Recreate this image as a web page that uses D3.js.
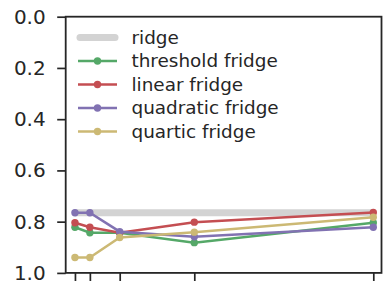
<!DOCTYPE html>
<html>
<head>
<meta charset="utf-8">
<script src="https://cdn.jsdelivr.net/npm/d3@7"></script>
<style>
  body { margin: 0; background: #fff; }
  svg { display: block; font-family: "DejaVu Sans", sans-serif; }
</style>
</head>
<body>
<script>
// data
const xValues = [0, 0.05, 0.15, 0.4, 1.0]
const ridge = [0.765, 0.765, 0.765, 0.765, 0.765]
const threshold = [0.822, 0.843, 0.843, 0.882, 0.804]
const linear = [0.804, 0.822, 0.843, 0.802, 0.764]
const quadratic = [0.765, 0.765, 0.839, 0.859, 0.822]
const quartic = [0.94, 0.94, 0.862, 0.841, 0.783]
const yTicks = [0, 0.2, 0.4, 0.6, 0.8, 1.0]
const seriesNames = ['threshold fridge', 'linear fridge', 'quadratic fridge', 'quartic fridge']
const seriesColors = ['#55a868', '#c44e52', '#8172b2', '#ccb974']
const seriesValues = [threshold, linear, quadratic, quartic]

const W = 386, H = 281
const ink = '#262626'

const x = d3.scaleLinear().domain([-0.031, 1.0275]).range([65.7, 381.5])
const y = d3.scaleLinear().domain([0, 1]).range([16.7, 272.9])

const svg = d3.select('body').append('svg')
  .attr('width', W).attr('height', H)

// LINES
const line = d3.line()
  .x((d, i) => x(xValues[i]))
  .y(d => y(d))

svg.append('path')
  .datum(ridge)
  .attr('d', line)
  .attr('fill', 'none')
  .attr('stroke', '#d3d3d3')
  .attr('stroke-width', 7)

seriesValues.forEach((vals, k) => {
  svg.append('path')
    .datum(vals)
    .attr('d', line)
    .attr('fill', 'none')
    .attr('stroke', seriesColors[k])
    .attr('stroke-width', 2.5)
  svg.selectAll(null)
    .data(vals)
    .enter()
    .append('circle')
    .attr('cx', (d, i) => x(xValues[i]))
    .attr('cy', d => y(d))
    .attr('r', 3.7)
    .attr('fill', seriesColors[k])
})

// AXES
const yAxis = svg.append('g')
  .attr('transform', `translate(${x.range()[0]},0)`)
  .call(d3.axisLeft(y).tickValues(yTicks).tickFormat(d3.format('.1f')).tickSize(8.5).tickPadding(11.5))
const xAxis = svg.append('g')
  .attr('transform', `translate(0,${y.range()[1]})`)
  .call(d3.axisBottom(x).tickValues(xValues).tickFormat('').tickSize(9))

;[yAxis, xAxis].forEach(g => {
  g.select('.domain').remove()
  g.selectAll('line').attr('stroke', ink).attr('stroke-width', 1.7)
  g.selectAll('text').attr('fill', ink).style('font-size', '20px').style('font-family', '"DejaVu Sans", sans-serif')
})

// frame
svg.append('rect')
  .attr('x', x.range()[0]).attr('y', y.range()[0])
  .attr('width', x.range()[1] - x.range()[0])
  .attr('height', y.range()[1] - y.range()[0])
  .attr('fill', 'none')
  .attr('stroke', ink)
  .attr('stroke-width', 1.8)

// LEGEND
const legend = svg.append('g')
const rowY = i => 37.5 + i * 23.5

legend.append('line')
  .attr('x1', 80).attr('x2', 115)
  .attr('y1', rowY(0)).attr('y2', rowY(0))
  .attr('stroke', '#d3d3d3').attr('stroke-width', 7)
  .attr('stroke-linecap', 'round')
legend.append('text')
  .attr('x', 131.5).attr('y', rowY(0))
  .attr('dy', '0.35em')
  .attr('fill', ink).style('font-size', '18.4px')
  .text('ridge')

seriesNames.forEach((name, k) => {
  const yy = rowY(k + 1)
  legend.append('line')
    .attr('x1', 78).attr('x2', 117)
    .attr('y1', yy).attr('y2', yy)
    .attr('stroke', seriesColors[k]).attr('stroke-width', 2.5)
  legend.append('circle')
    .attr('cx', 97.5).attr('cy', yy).attr('r', 3.7)
    .attr('fill', seriesColors[k])
  legend.append('text')
    .attr('x', 131.5).attr('y', yy)
    .attr('dy', '0.35em')
    .attr('fill', ink).style('font-size', '18.4px')
    .text(name)
})
</script>
</body>
</html>
